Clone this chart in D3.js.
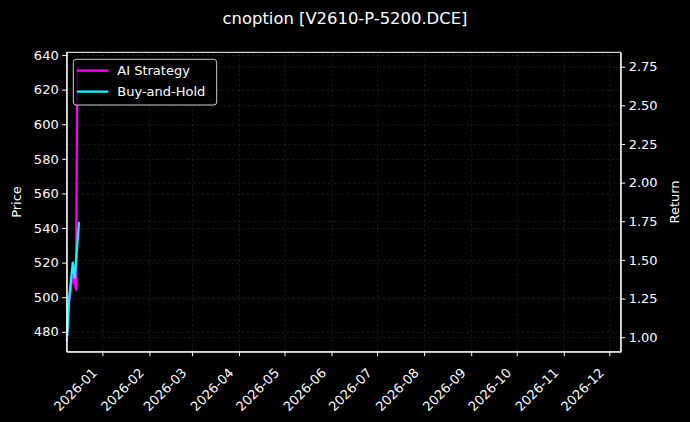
<!DOCTYPE html>
<html>
<head>
    <meta charset="utf-8">
    <title>cnoption chart</title>
    <script src="https://d3js.org/d3.v7.min.js"></script>
    <style type="text/css">
        body { margin: 0; background: #000; }
        text { font-family: "DejaVu Sans", sans-serif; fill: #fff; }
        .grid line { stroke: #777; stroke-opacity: 0.38; stroke-dasharray: 2.5,2.5; stroke-width: 0.6; }
        .grid path { display: none; }
        .axis path, .axis line { stroke: #fff; }
    </style>

    <script type="text/javascript">
        // chart values
        const titleText = "cnoption [V2610-P-5200.DCE]";
        const xDomain = ["2025-12-08T12:00", "2026-12-08T12:00"];
        const monthTicks = ["2026-01", "2026-02", "2026-03", "2026-04", "2026-05", "2026-06",
                            "2026-07", "2026-08", "2026-09", "2026-10", "2026-11", "2026-12"];

        const strategyDates = ["2025-12-08T12:00", "2025-12-10T00:00", "2025-12-12T16:00",
                               "2025-12-14T15:00", "2025-12-15T12:00"];
        const strategyValues = [0.974, 1.211, 1.426, 1.308, 2.754];

        const holdDates = ["2025-12-08T22:00", "2025-12-10T00:00", "2025-12-12T12:00",
                           "2025-12-13T19:00", "2025-12-16T15:00"];
        const holdValues = [1.01, 1.243, 1.482, 1.385, 1.744];

        const priceDomain = [468.5, 641.6];
        const priceTicks = [480, 500, 520, 540, 560, 580, 600, 620, 640];
        const returnDomain = [0.906, 2.843];
        const returnTicks = [1.00, 1.25, 1.50, 1.75, 2.00, 2.25, 2.50, 2.75];

        const seriesNames = ["AI Strategy", "Buy-and-Hold"];
        const seriesColors = ["#ff00ff", "#00ffff"];

        function draw() {
            let W = 690, H = 422;
            let margin = {top: 52.3, right: 69.3, bottom: 70.3, left: 66.7},
                width = W - margin.left - margin.right,
                height = H - margin.top - margin.bottom;

            let parse = d3.timeParse("%Y-%m-%dT%H:%M");
            let parseMonth = d3.timeParse("%Y-%m");

            let svg = d3.select("body").append("svg")
                .attr("width", W)
                .attr("height", H)
                .style("background", "#000");

            svg.append("text")
                .attr("x", W / 2)
                .attr("y", 24)
                .attr("text-anchor", "middle")
                .style("font-size", "16.4px")
                .text(titleText);

            let g = svg.append("g")
                .attr("transform", `translate(${margin.left},${margin.top})`);

            let x = d3.scaleTime().domain(xDomain.map(parse)).range([0, width]);
            let yL = d3.scaleLinear().domain(priceDomain).range([height, 0]);
            let yR = d3.scaleLinear().domain(returnDomain).range([height, 0]);

            let monthDates = monthTicks.map(parseMonth);

            // grids
            g.append("g").attr("class", "grid")
                .attr("transform", `translate(0,${height})`)
                .call(d3.axisBottom(x).tickValues(monthDates).tickSize(-height).tickFormat(""));
            g.append("g").attr("class", "grid")
                .call(d3.axisLeft(yL).tickValues(priceTicks).tickSize(-width).tickFormat(""));
            g.append("g").attr("class", "grid")
                .attr("transform", `translate(${width},0)`)
                .call(d3.axisRight(yR).tickValues(returnTicks).tickSize(-width).tickFormat(""));

            // lines
            let strategy = strategyDates.map((d, i) => ({date: parse(d), value: strategyValues[i]}));
            let hold = holdDates.map((d, i) => ({date: parse(d), value: holdValues[i]}));

            let line = d3.line()
                .x(d => x(d.date))
                .y(d => yR(d.value));

            [strategy, hold].forEach((data, i) => {
                g.append("path")
                    .datum(data)
                    .attr("fill", "none")
                    .attr("stroke", seriesColors[i])
                    .attr("stroke-width", 2.2)
                    .attr("stroke-linejoin", "round")
                    .attr("d", line);
            });

            // axes
            let xAxis = g.append("g").attr("class", "axis")
                .attr("transform", `translate(0,${height})`)
                .call(d3.axisBottom(x).tickValues(monthDates).tickSize(4.5).tickSizeOuter(0)
                    .tickFormat(d3.timeFormat("%Y-%m")));
            xAxis.selectAll("text")
                .attr("x", 0).attr("y", 0).attr("dy", 0)
                .attr("text-anchor", "end")
                .attr("transform", "translate(-5,22) rotate(-45)")
                .style("font-size", "13px");

            let leftAxis = g.append("g").attr("class", "axis")
                .call(d3.axisLeft(yL).tickValues(priceTicks).tickSize(4.5).tickSizeOuter(0)
                    .tickFormat(d3.format("d")));
            leftAxis.selectAll("text").style("font-size", "13px").attr("x", -8);

            let rightAxis = g.append("g").attr("class", "axis")
                .attr("transform", `translate(${width},0)`)
                .call(d3.axisRight(yR).tickValues(returnTicks).tickSize(4.5).tickSizeOuter(0)
                    .tickFormat(d3.format(".2f")));
            rightAxis.selectAll("text").style("font-size", "13px").attr("x", 8);

            // spines
            g.append("rect")
                .attr("width", width).attr("height", height)
                .attr("fill", "none").attr("stroke", "#fff").attr("stroke-width", 1);

            // axis labels
            svg.append("text")
                .attr("transform", `translate(21,${margin.top + height / 2}) rotate(-90)`)
                .attr("text-anchor", "middle")
                .style("font-size", "13px")
                .text("Price");
            svg.append("text")
                .attr("transform", `translate(670,${margin.top + height / 2}) rotate(-90)`)
                .attr("text-anchor", "middle")
                .attr("dy", "0.7em")
                .style("font-size", "13px")
                .text("Return");

            // legend
            let lg = svg.append("g").attr("transform", "translate(73.3,59.3)");
            lg.append("rect")
                .attr("width", 143.4).attr("height", 45.7)
                .attr("rx", 3)
                .attr("fill", "#000").attr("fill-opacity", 0.8)
                .attr("stroke", "#ccc").attr("stroke-width", 1);
            seriesNames.forEach((name, i) => {
                let yy = 11.4 + i * 21;
                lg.append("line")
                    .attr("x1", 3.5).attr("x2", 35)
                    .attr("y1", yy).attr("y2", yy)
                    .attr("stroke", seriesColors[i]).attr("stroke-width", 2.2);
                lg.append("text")
                    .attr("x", 44).attr("y", yy)
                    .attr("dy", "0.36em")
                    .style("font-size", "13px")
                    .text(name);
            });
        }
    </script>
</head>
<body>
    <script type="text/javascript">
        draw();
    </script>
</body>
</html>
